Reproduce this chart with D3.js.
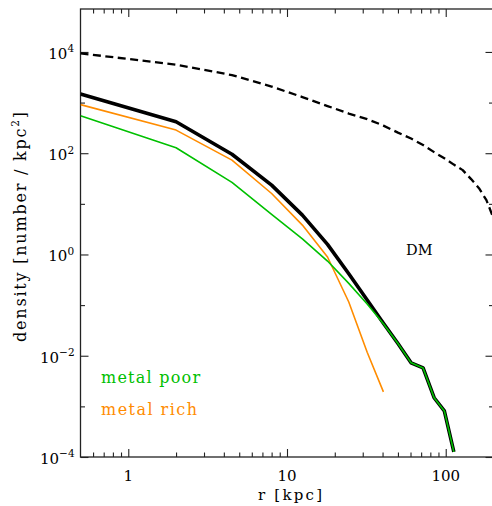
<!DOCTYPE html>
<html>
<head>
<meta charset="utf-8">
<script src="https://cdn.jsdelivr.net/npm/d3@7"></script>
<style>
  html, body { margin: 0; padding: 0; background: #fff; }
  svg { display: block; }
  text { font-family: "DejaVu Serif", serif; fill: #000; }
</style>
</head>
<body>
<svg id="chart" width="492" height="506"></svg>
<script>
// Projected radius of each bin [kpc]
const radius = [0.5, 2, 4.5, 8, 12.5, 18, 24.5, 32, 40.5, 50, 60.5, 72, 84.5, 98, 112.5,
                128, 144.5, 162, 180.5, 200];

// Surface densities [number / kpc^2]
const totalDensity = [1480, 417, 95.5, 23.4, 5.98, 1.58, 0.417, 0.126, 0.0437,
                      0.0174, 0.00724, 0.00575, 0.00148, 0.000813, 0.000126];
const metalPoor    = [550, 128, 26.5, 6.17, 2.04, 0.741, 0.269, 0.105, 0.0427,
                      0.0174, 0.00724, 0.00575, 0.00148, 0.000813, 0.000126];
const metalRich    = [912, 286, 73.1, 16.0, 3.80, 0.891, 0.115, 0.0117, 0.00193];
const darkMatter   = [9380, 5610, 3490, 2070, 1285, 853, 607, 472, 351, 255,
                      195, 145, 105, 79.4, 59.6, 46.3, 30.8, 20.4, 11.8, 5.2];

// Axis ticks
const xMajorTicks = [1, 10, 100];
const xMinorTicks = [0.6, 0.7, 0.8, 0.9, 2, 3, 4, 5, 6, 7, 8, 9, 20, 30, 40, 50, 60, 70, 80, 90];
const xTickLabels = ["1", "10", "100"];
const yMajorTicks = [1e-4, 1e-2, 1, 1e2, 1e4];
const yMinorTicks = [1e-3, 1e-1, 1e1, 1e3];
const yTickExponents = ["\u22124", "\u22122", "0", "2", "4"];

const seriesColors = { total: "#000000", poor: "#00c000", rich: "#ff8c00", dm: "#000000" };

const svg = d3.select("#chart");
const plot = { left: 80.5, right: 493.5, top: 9, bottom: 457 };

const x = d3.scaleLog().domain([0.5, 200]).range([plot.left, plot.right]);
const y = d3.scaleLog().domain([1e-4, 7.05e4]).range([plot.bottom, plot.top]);

svg.append("defs").append("clipPath").attr("id", "plot-clip")
  .append("rect")
  .attr("x", plot.left).attr("y", plot.top)
  .attr("width", plot.right - plot.left).attr("height", plot.bottom - plot.top);

// ---- axes: ticks point inward on all four sides ----
const axisColor = "#222";
function styleAxis(g) {
  g.select(".domain").remove();
  g.selectAll(".tick line").attr("stroke", axisColor).attr("stroke-width", 1.1);
  g.selectAll(".tick text").remove();
}
const major = 8, minor = 4.5;
svg.append("g").attr("transform", `translate(0,${plot.bottom})`)
  .call(d3.axisBottom(x).tickValues(xMajorTicks).tickSize(-major)).call(styleAxis);
svg.append("g").attr("transform", `translate(0,${plot.bottom})`)
  .call(d3.axisBottom(x).tickValues(xMinorTicks).tickSize(-minor)).call(styleAxis);
svg.append("g").attr("transform", `translate(0,${plot.top})`)
  .call(d3.axisTop(x).tickValues(xMajorTicks).tickSize(-major)).call(styleAxis);
svg.append("g").attr("transform", `translate(0,${plot.top})`)
  .call(d3.axisTop(x).tickValues(xMinorTicks).tickSize(-minor)).call(styleAxis);
svg.append("g").attr("transform", `translate(${plot.left},0)`)
  .call(d3.axisLeft(y).tickValues(yMajorTicks).tickSize(-major)).call(styleAxis);
svg.append("g").attr("transform", `translate(${plot.left},0)`)
  .call(d3.axisLeft(y).tickValues(yMinorTicks).tickSize(-minor)).call(styleAxis);
svg.append("g").attr("transform", `translate(${plot.right},0)`)
  .call(d3.axisRight(y).tickValues(yMajorTicks).tickSize(-major)).call(styleAxis);
svg.append("g").attr("transform", `translate(${plot.right},0)`)
  .call(d3.axisRight(y).tickValues(yMinorTicks).tickSize(-minor)).call(styleAxis);

// frame
svg.append("rect")
  .attr("x", plot.left).attr("y", plot.top)
  .attr("width", plot.right - plot.left).attr("height", plot.bottom - plot.top)
  .attr("fill", "none").attr("stroke", axisColor).attr("stroke-width", 1.3);

// ---- tick labels ----
svg.selectAll(".xlab").data(xMajorTicks).join("text")
  .attr("class", "xlab")
  .attr("x", d => x(d)).attr("y", 481)
  .attr("text-anchor", "middle").attr("font-size", 15)
  .text((d, i) => xTickLabels[i]);

const ylab = svg.selectAll(".ylab").data(yMajorTicks).join("text")
  .attr("class", "ylab")
  .attr("x", d => d < 1 ? 40 : 48.3)
  .attr("y", d => y(d) + 6.8)
  .attr("font-size", 15);
ylab.append("tspan").text("10");
ylab.append("tspan").attr("dy", -6.5).attr("font-size", 10.5)
  .text((d, i) => yTickExponents[i]);

// stretch letter spacing so a label spans a given width
function fitWidth(sel, target) {
  sel.each(function () {
    const n = this.getNumberOfChars();
    const w = this.getComputedTextLength();
    const s = Math.max(0, (target - w) / Math.max(n - 1, 1));
    d3.select(this).attr("letter-spacing", s.toFixed(2) + "px");
  });
}

// ---- axis titles ----
svg.append("text")
  .attr("x", 258).attr("y", 500).attr("font-size", 15)
  .text("r [kpc]")
  .call(fitWidth, 64);

const ytitle = svg.append("text")
  .attr("transform", "translate(25.5,342) rotate(-90)")
  .attr("font-size", 16);
ytitle.append("tspan").text("density [number / kpc");
ytitle.append("tspan").attr("dy", -6.5).attr("font-size", 10.5).text("2");
ytitle.append("tspan").attr("dy", 6.5).text("]");
ytitle.call(fitWidth, 230);

// ---- profiles ----
const line = d3.line().x(d => x(d[0])).y(d => y(d[1]));
const lines = svg.append("g").attr("clip-path", "url(#plot-clip)").attr("fill", "none")
  .attr("stroke-linejoin", "round");

lines.append("path")
  .attr("d", line(darkMatter.map((v, i) => [radius[i], v])))
  .attr("stroke", seriesColors.dm).attr("stroke-width", 2.3)
  .attr("stroke-dasharray", "8,4.5");

lines.append("path")
  .attr("d", line(totalDensity.map((v, i) => [radius[i], v])))
  .attr("stroke", seriesColors.total).attr("stroke-width", 3.6);

lines.append("path")
  .attr("d", line(metalRich.map((v, i) => [radius[i], v])))
  .attr("stroke", seriesColors.rich).attr("stroke-width", 1.6);

lines.append("path")
  .attr("d", line(metalPoor.map((v, i) => [radius[i], v])))
  .attr("stroke", seriesColors.poor).attr("stroke-width", 1.6);

// ---- annotations ----
svg.append("text").attr("x", 406).attr("y", 255).attr("font-size", 14.5)
  .text("DM");

svg.append("text").attr("x", 101).attr("y", 382.7).attr("font-size", 16)
  .style("fill", seriesColors.poor)
  .text("metal poor").call(fitWidth, 99);
svg.append("text").attr("x", 101).attr("y", 415).attr("font-size", 16)
  .style("fill", seriesColors.rich)
  .text("metal rich").call(fitWidth, 96);
</script>
</body>
</html>
